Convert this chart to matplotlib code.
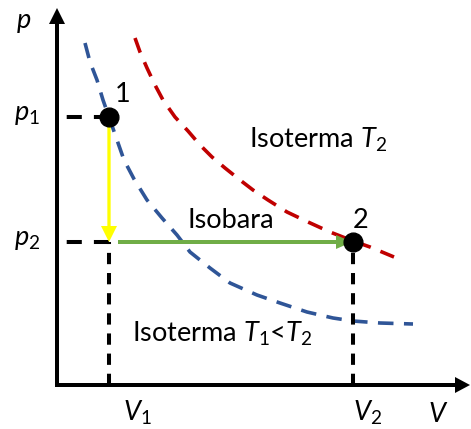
import matplotlib
matplotlib.use('Agg')
import matplotlib.pyplot as plt

plt.rcParams['font.family'] = ['Lato', 'DejaVu Sans']
plt.rcParams['mathtext.fontset'] = 'custom'
plt.rcParams['mathtext.rm'] = 'Lato'
plt.rcParams['mathtext.it'] = 'Lato:italic'

# state points (V, p), arbitrary units
V1, p1 = 52, 268
V2, p2 = 296, 143

# isotherm T1 (blue)
iso1_V = [28, 33, 40, 46, 52, 60, 67, 77, 90, 105, 120, 133, 153, 173, 200, 223, 250, 276, 296, 323, 356]
iso1_p = [342, 323, 305, 285, 268, 245, 225, 206, 185, 167, 150, 133, 117, 102, 90, 82, 73, 67, 64, 62, 61]

# isotherm T2 (red)
iso2_V = [78, 83, 90, 98, 106, 118, 131, 143, 155, 168, 183, 196, 211, 230, 251, 273, 296, 313, 337]
iso2_p = [347, 333, 317, 300, 285, 268, 254, 240, 228, 217, 205, 195, 185, 173, 163, 153, 144, 138, 128]

fig = plt.figure(figsize=(4.71, 4.29), dpi=100)
ax = fig.add_axes([0, 0, 1, 1])
ax.set_xlim(-57, 414)
ax.set_ylim(-44, 385)
ax.axis('off')

# axes with arrows
ax.arrow(0, -2, 0, 379, width=4, head_width=16, head_length=16,
         length_includes_head=True, fc='black', ec='none', zorder=3)
ax.arrow(-2, 0, 415, 0, width=4, head_width=16, head_length=15,
         length_includes_head=True, fc='black', ec='none', zorder=3)

# isotherms
ax.plot(iso1_V, iso1_p, color='#2F5597', lw=2.6, linestyle=(0, (4.3, 2.9)), zorder=2)
ax.plot(iso2_V, iso2_p, color='#C00000', lw=2.6, linestyle=(0, (4.3, 2.9)), zorder=2)

# guide lines
dash_h = (0, (3.75, 3.0))
dash_v = (0, (2.8, 2.2))
ax.plot([V1, 0], [p1, p1], color='black', lw=2.9, linestyle=dash_h, zorder=2)
ax.plot([V1, 0], [p2, p2], color='black', lw=2.9, linestyle=dash_h, zorder=2)
ax.plot([V1, V1], [0, p2], color='black', lw=2.9, linestyle=dash_v, zorder=2)
ax.plot([V2, V2], [0, p2], color='black', lw=2.9, linestyle=dash_v, zorder=2)

# processes
ax.arrow(V1, p1, 0, p2 - p1, width=3.3, head_width=16, head_length=16,
         length_includes_head=True, fc='#FFFF00', ec='none', zorder=4)
ax.arrow(V1 + 9, p2, V2 - V1 - 10, 0, width=4, head_width=14, head_length=16,
         length_includes_head=True, fc='#70AD47', ec='none', zorder=4)

ax.plot([V1, V2], [p1, p2], 'o', color='black', ms=13.5, zorder=5)

fs = 19.5
ax.text(-33, 357, '$p$', fontsize=fs, ha='center', va='baseline')
ax.text(-30, 265, r'$p_\mathit{1}$', fontsize=fs, ha='center', va='baseline')
ax.text(-30, 140, r'$p_\mathit{2}$', fontsize=fs, ha='center', va='baseline')
ax.text(66, 290, '1', fontsize=fs, ha='center', va='center')
ax.text(304, 164, '2', fontsize=fs, ha='center', va='center')
ax.text(80, -28, r'$V_\mathit{1}$', fontsize=fs, ha='center', va='center')
ax.text(311, -28, r'$V_\mathit{2}$', fontsize=fs, ha='center', va='center')
ax.text(381, -30, '$V$', fontsize=fs, ha='center', va='center')
ax.text(261, 237, r'Isoterma $T_\mathit{2}$', fontsize=fs, ha='center', va='baseline')
ax.text(174, 157, 'Isobara', fontsize=fs, ha='center', va='baseline')
ax.text(165, 43, r'Isoterma $T_\mathit{1}$<$T_\mathit{2}$', fontsize=fs, ha='center', va='baseline')

fig.savefig('out.png', dpi=100)
